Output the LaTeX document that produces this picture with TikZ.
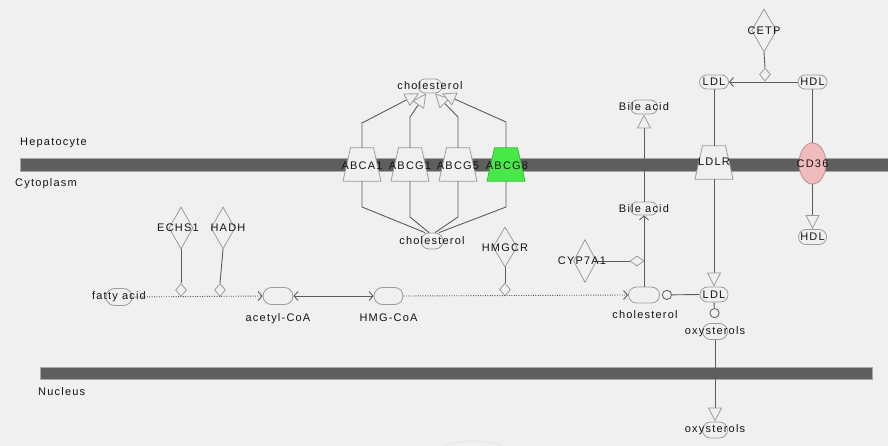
\documentclass[tikz,border=0pt]{standalone}
\usepackage{fontspec}
\setmainfont{Liberation Sans}
\newfontfamily\lblfont[LetterSpace=11]{Liberation Sans}
\usetikzlibrary{shapes.geometric,shapes.misc,arrows.meta}
\definecolor{bg}{HTML}{F0F0F0}
\definecolor{edgec}{HTML}{5C5C5C}
\definecolor{shp}{HTML}{9C9C9C}
\definecolor{barc}{HTML}{5E5E5E}
\definecolor{barb}{HTML}{A8A8A8}
\definecolor{txt}{HTML}{141414}
\definecolor{abcgreen}{HTML}{48E848}
\definecolor{cdpink}{HTML}{F2BBBB}
\definecolor{cdborder}{HTML}{B89090}
\tikzset{
 chem/.style={rounded rectangle, draw=shp, fill=bg, line width=0.8pt, minimum width=28pt, minimum height=15pt, inner sep=0pt},
 tbox/.style={rectangle, minimum width=38pt, minimum height=33pt, inner sep=0pt},
 enz/.style={diamond, draw=shp, fill=bg, line width=0.8pt, minimum width=24pt, minimum height=42pt, inner sep=0pt},
 sdia/.style={diamond, draw=shp, fill=bg, line width=0.8pt, minimum width=11pt, minimum height=13pt, inner sep=0pt},
 sdiah/.style={diamond, draw=shp, fill=bg, line width=0.8pt, minimum width=14pt, minimum height=10pt, inner sep=0pt},
 lbl/.style={font=\lblfont\fontsize{11}{13}\selectfont, text=txt, inner sep=0pt},
 link/.style={draw=edgec, line width=0.9pt},
 conv/.style={link, -{Straight Barb[length=4pt,width=9pt]}},
 dconv/.style={conv, dash pattern=on 1pt off 1.4pt},
 trans/.style={link, -{Triangle[length=14pt,width=14pt,color=shp,fill=bg,line width=0.8pt]}},
 bar/.style={fill=barc, draw=barb, line width=0.8pt},
}
% transporter: name, x, y, fill, border
\newcommand\trapnode[5]{%
 \node[tbox] (#1) at (#2,#3) {};
 \filldraw[draw=#5, fill=#4, line width=0.8pt] ([xshift=-19pt]#1.south) -- ([xshift=19pt]#1.south) -- ([xshift=11.5pt]#1.north) -- ([xshift=-11.5pt]#1.north) -- cycle;}
\begin{document}
\begin{tikzpicture}[x=1pt,y=-1pt]
\fill[bg] (0,0) rectangle (888,446);
\useasboundingbox (0,0) rectangle (888,446);

% membranes
\path[bar] (20,158.5) rectangle (890,171.5);
\path[bar] (40,367) rectangle (872,379.5);

% faint partial shape at bottom edge
\draw[black!9, line width=1.4pt] (442,447) .. controls (458,439) and (488,439) .. (504,447);

% transporters
\trapnode{abca1}{362}{164.5}{bg}{shp}
\trapnode{abcg1}{410}{164.5}{bg}{shp}
\trapnode{abcg5}{458}{164.5}{bg}{shp}
\trapnode{abcg8}{506}{164.5}{abcgreen}{abcgreen!80!black}
\trapnode{ldlr}{714}{162.5}{bg}{shp}
\node[ellipse, draw=cdborder, fill=cdpink, line width=0.8pt, minimum width=27pt, minimum height=41pt, inner sep=0pt] (cd36) at (812.5,163.5) {};

% chemicals
\node[chem, minimum width=24pt, minimum height=14pt] (chtop) at (430,86) {};
\node[chem, minimum width=22pt, minimum height=16pt] (chbot) at (432,241) {};
\node[chem, minimum width=26pt, minimum height=17pt] (fa) at (119,297) {};
\node[chem, minimum width=30pt, minimum height=17pt] (acoa) at (278,296) {};
\node[chem, minimum width=29pt, minimum height=17pt] (hmg) at (388.5,296) {};
\node[chem, minimum width=31pt, minimum height=16pt] (chol) at (644,295) {};
\node[chem, minimum width=27pt, minimum height=13pt] (bal) at (644,208.5) {};
\node[chem, minimum width=27pt, minimum height=14pt] (bau) at (644,107) {};
\node[chem, minimum width=29pt, minimum height=14pt] (ldl1) at (714,82) {};
\node[chem, minimum width=29pt, minimum height=14pt] (hdl1) at (812.5,82) {};
\node[chem, minimum width=28pt, minimum height=15pt] (ldl2) at (714,294.5) {};
\node[chem, minimum width=28pt, minimum height=15pt] (hdl2) at (812.5,237) {};
\node[chem, minimum width=25pt, minimum height=16pt] (ox1) at (715,331.5) {};
\node[chem, minimum width=25pt, minimum height=16pt] (ox2) at (715,430) {};

% enzymes
\node[enz] (echs1) at (181,228) {};
\node[enz] (hadh) at (223,228) {};
\node[enz, minimum height=40pt] (hmgcr) at (505,247) {};
\node[enz, minimum width=23pt, minimum height=43pt] (cyp) at (585,261) {};
\node[enz, minimum width=25pt, minimum height=43pt] (cetp) at (764,30.5) {};
\node[sdia] (s1) at (181,290) {};
\node[sdia] (s2) at (220,290) {};
\node[sdia] (s3) at (505,289.5) {};
\node[sdiah] (s4) at (637,261) {};
\node[sdia] (s5) at (765,74.5) {};

% transport to top cholesterol
\draw[trans] (abca1.north) -- (362,123) -- ([xshift=-11pt]chtop.south);
\draw[trans] (abcg1.north) -- (410,117) -- ([xshift=-4pt]chtop.south);
\draw[trans] (abcg5.north) -- (458,117) -- ([xshift=5pt]chtop.south);
\draw[trans] (abcg8.north) -- (506,122) -- ([xshift=12pt]chtop.south);
% from bottom cholesterol
\draw[link] (abca1.south) -- (362,207) -- ([xshift=-7pt]chbot.north);
\draw[link] (abcg1.south) -- (410,217) -- ([xshift=-3pt]chbot.north);
\draw[link] (abcg5.south) -- (458,217) -- ([xshift=3pt]chbot.north);
\draw[link] (abcg8.south) -- (506,207) -- ([xshift=7pt]chbot.north);

% catalysis
\draw[link] (echs1.south) -- (s1.north);
\draw[link] (hadh.south) -- (s2.north);
\draw[link] (hmgcr.south) -- (s3.north);
\draw[link] (cyp.east) -- (s4.west);
\draw[link] (cetp.south) -- (s5.north);

% conversions
\draw[dconv] (fa.east) -- (acoa.west);
\draw[link, {Straight Barb[length=4pt,width=9pt]}-{Straight Barb[length=4pt,width=9pt]}] (acoa.east) -- (hmg.west);
\draw[dconv] (hmg.east) -- (chol.west);
\draw[conv] (chol.north) -- (bal.south);
\draw[trans] (bal.north) -- (bau.south);
\draw[link, {Circle[length=10pt,width=10pt,color=edgec,fill=bg,line width=0.8pt]}-, shorten <=2pt] (chol.east) -- (ldl2.west);
\draw[conv] (hdl1.west) -- (ldl1.east);
\draw[link] (ldl1.south) -- (ldlr.north);
\draw[trans] (ldlr.south) -- (ldl2.north);
\draw[link] (hdl1.south) -- (cd36.north);
\draw[trans] (cd36.south) -- (hdl2.north);
\draw[link, -{Circle[length=10pt,width=10pt,color=edgec,fill=bg,line width=0.8pt]}, shorten >=5pt] (ldl2.south) -- (ox1.north);
\draw[trans] (ox1.south) -- (ox2.north);

% compartment labels
\node[lbl, anchor=west] (lhep) at (20,143) {Hepatocyte};
\node[lbl, anchor=west] (lcyt) at (15,184) {Cytoplasm};
\node[lbl, anchor=west] (lnuc) at (38,392) {Nucleus};

% node labels
\node[lbl] (tchtop) at (chtop) {cholesterol};
\node[lbl] (tchbot) at (chbot) {cholesterol};
\node[lbl] (tabca1) at (362,166) {ABCA1};
\node[lbl] (tabcg1) at (410,166) {ABCG1};
\node[lbl] (tabcg5) at (458,166) {ABCG5};
\node[lbl] (tabcg8) at (507,166) {ABCG8};
\node[lbl] (tldlr) at (714,162) {LDLR};
\node[lbl] (tcd36) at (812.5,163.5) {CD36};
\node[lbl] (techs1) at (178,228) {ECHS1};
\node[lbl] (thadh) at (228,228) {HADH};
\node[lbl] (thmgcr) at (505,248) {HMGCR};
\node[lbl] (tcyp) at (582,261) {CYP7A1};
\node[lbl] (tcetp) at (764,31) {CETP};
\node[lbl] (tfa) at (fa) {fatty acid};
\node[lbl] (tacoa) at (278,319) {acetyl-CoA};
\node[lbl] (thmg) at (388.5,318) {HMG-CoA};
\node[lbl] (tchol) at (645,315) {cholesterol};
\node[lbl] (tbal) at (bal) {Bile acid};
\node[lbl] (tbau) at (bau) {Bile acid};
\node[lbl] (tldl1) at (ldl1) {LDL};
\node[lbl] (thdl1) at (hdl1) {HDL};
\node[lbl] (tldl2) at (ldl2) {LDL};
\node[lbl] (thdl2) at (hdl2) {HDL};
\node[lbl] (tox1) at (ox1) {oxysterols};
\node[lbl] (tox2) at (ox2) {oxysterols};
\end{tikzpicture}
\end{document}
